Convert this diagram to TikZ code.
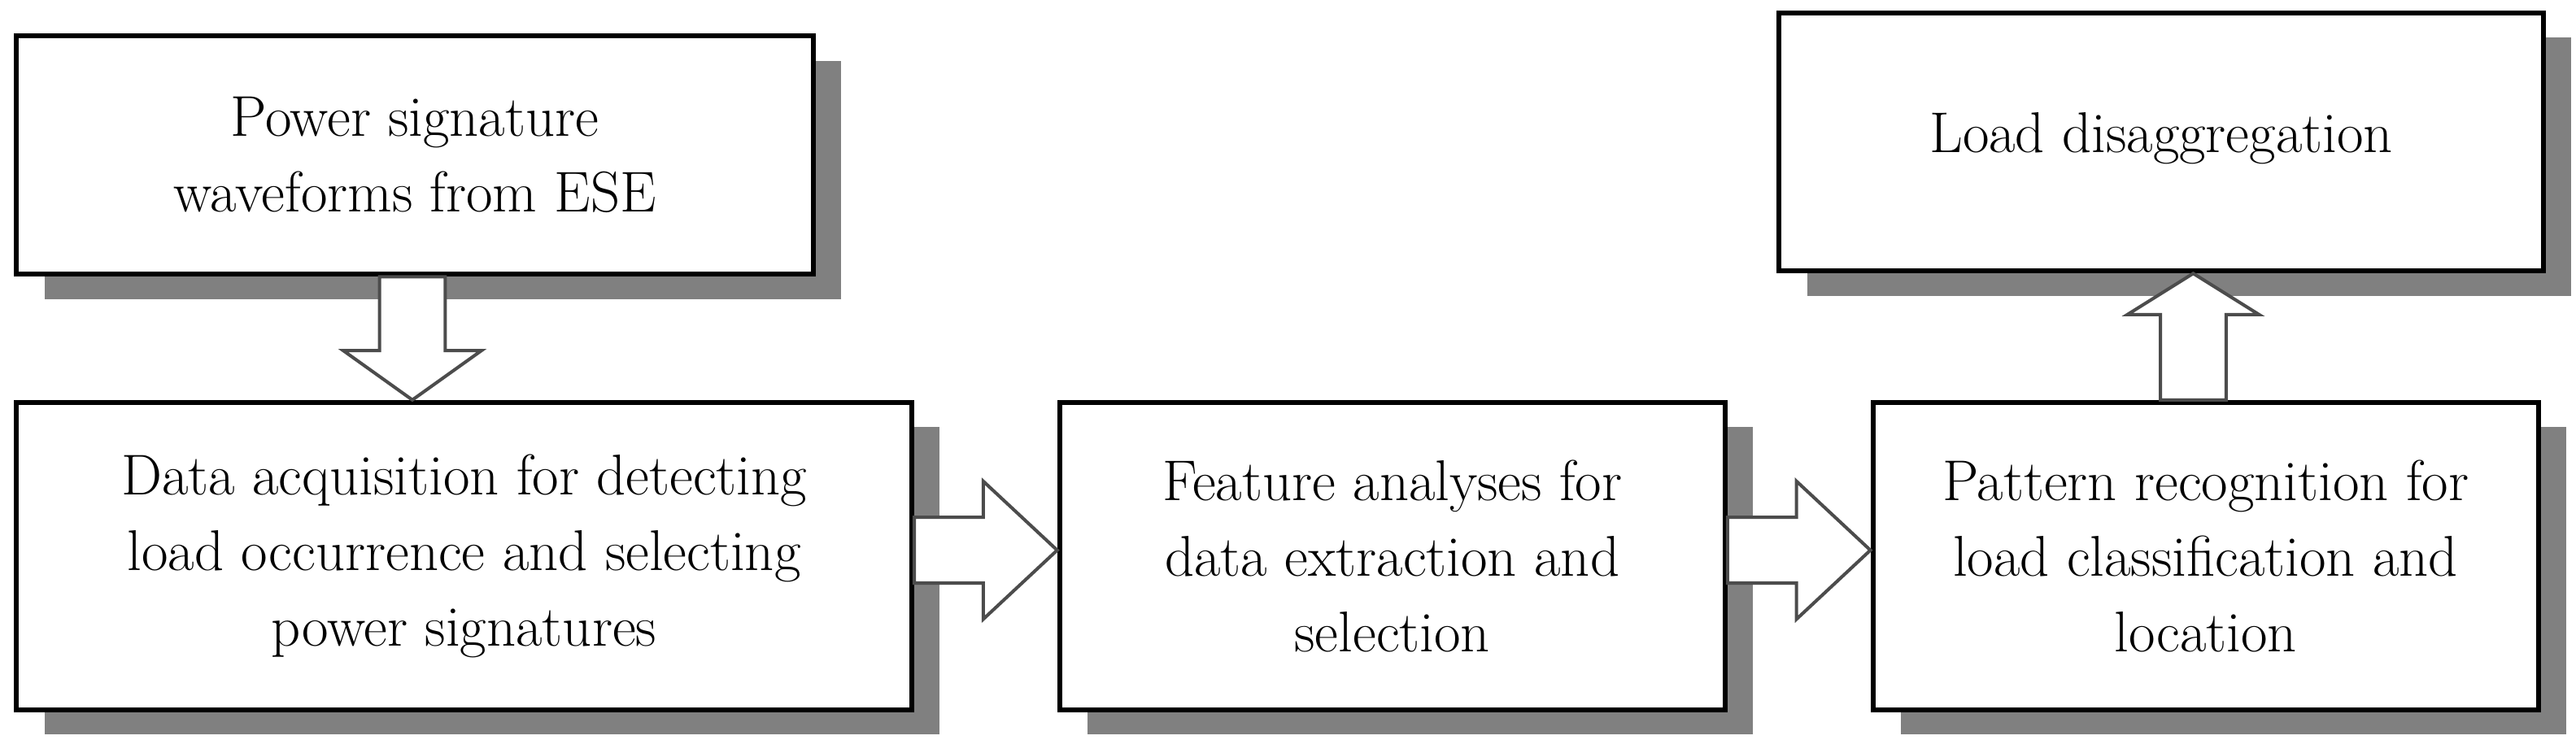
\documentclass[tikz,border=0pt]{standalone}
\usetikzlibrary{calc,shadows}
\begin{document}
\begin{tikzpicture}[x=1pt,y=-1pt,
  box/.style={draw=black,line width=1.5pt,fill=white,align=center,inner sep=0pt,
    font=\fontsize{17.5}{23}\selectfont,
    drop shadow={shadow xshift=8.5pt,shadow yshift=-7.5pt,fill=black!50,opacity=1}},
  fat/.style={draw=black!70,line width=1pt,fill=white}]
\useasboundingbox (0,0) rectangle (784,229);
\node[box,minimum width=242.5pt,minimum height=72.5pt] (b1) at (126.25,47.25) {Power signature\\waveforms from ESE};
\node[box,minimum width=272.5pt,minimum height=93.5pt] (b2) at (141.25,169.25) {Data acquisition for detecting\\load occurrence and selecting\\power signatures};
\node[box,minimum width=202.5pt,minimum height=93.5pt] (b3) at (423.75,169.25) {Feature analyses for\\data extraction and\\selection};
\node[box,minimum width=202.5pt,minimum height=93.5pt] (b4) at (671.25,169.25) {Pattern recognition for\\load classification and\\location};
\node[box,minimum width=232.5pt,minimum height=78.5pt] (b5) at (657.75,43.25) {\raisebox{6pt}{Load disaggregation}};
% down arrow
\coordinate (a1) at (125.5,0|-b1.south);
\coordinate (t1) at (125.5,0|-b2.north);
\draw[fat] ($(a1)+(-10,0)$) -- ($(a1)+(10,0)$) -- ($(t1)+(10,-15)$) -- ($(t1)+(21,-15)$) -- (t1) -- ($(t1)+(-21,-15)$) -- ($(t1)+(-10,-15)$) -- cycle;
% right arrow 1
\coordinate (a2) at (b2.east|-0,167.5);
\coordinate (t2) at (b3.west|-0,167.5);
\draw[fat] ($(a2)+(0,-10)$) -- ($(t2)+(-22.5,-10)$) -- ($(t2)+(-22.5,-21)$) -- (t2) -- ($(t2)+(-22.5,21)$) -- ($(t2)+(-22.5,10)$) -- ($(a2)+(0,10)$) -- cycle;
% right arrow 2
\coordinate (a3) at (b3.east|-0,167.5);
\coordinate (t3) at (b4.west|-0,167.5);
\draw[fat] ($(a3)+(0,-10)$) -- ($(t3)+(-22.5,-10)$) -- ($(t3)+(-22.5,-21)$) -- (t3) -- ($(t3)+(-22.5,21)$) -- ($(t3)+(-22.5,10)$) -- ($(a3)+(0,10)$) -- cycle;
% up arrow
\coordinate (a4) at (667.5,0|-b4.north);
\coordinate (t4) at (667.5,0|-b5.south);
\draw[fat] ($(a4)+(-10,0)$) -- ($(a4)+(10,0)$) -- ($(t4)+(10,12.5)$) -- ($(t4)+(20,12.5)$) -- (t4) -- ($(t4)+(-20,12.5)$) -- ($(t4)+(-10,12.5)$) -- cycle;
\end{tikzpicture}
\end{document}
